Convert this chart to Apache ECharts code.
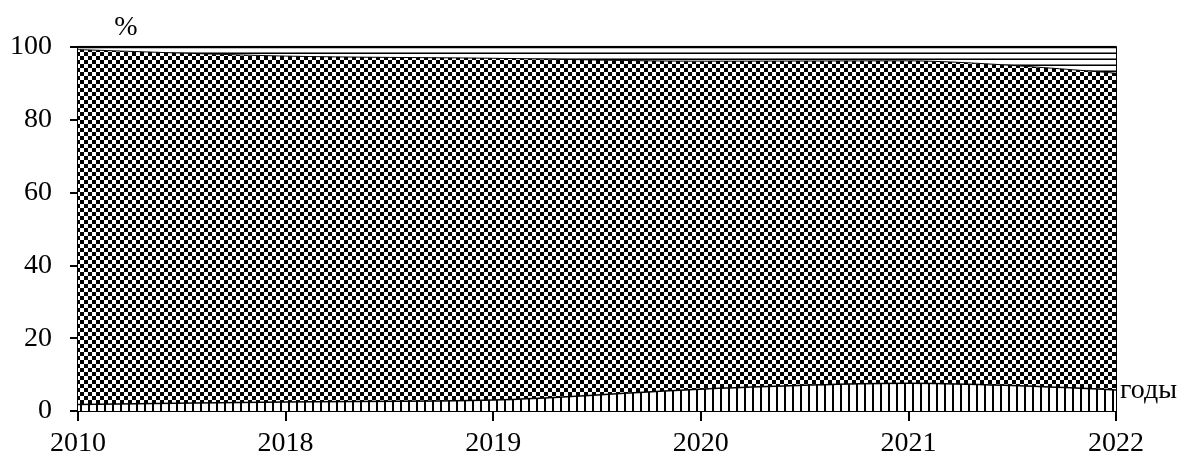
<!DOCTYPE html>
<html>
<head>
<meta charset="utf-8">
<script src="https://cdn.jsdelivr.net/npm/echarts@6/dist/echarts.min.js"></script>
<style>
html,body{margin:0;padding:0;background:#fff;}
#chart{width:1187px;height:460px;}
</style>
</head>
<body>
<div id="chart"></div>
<script>
var categories = ['2010', '2018', '2019', '2020', '2021', '2022'];
var stripedSeries = [1.8, 2.5, 3.0, 6.0, 7.6, 5.8];
var checkerSeries = [97.5, 95.0, 93.9, 90.1, 88.6, 87.0];
var linedSeries = [0.7, 2.5, 3.1, 3.9, 3.8, 7.2];
var yTicks = [0, 20, 40, 60, 80, 100];

function makePattern(w, h, draw) {
  var c = document.createElement('canvas');
  c.width = w; c.height = h;
  var ctx = c.getContext('2d');
  ctx.fillStyle = '#fff';
  ctx.fillRect(0, 0, w, h);
  ctx.fillStyle = '#000';
  draw(ctx);
  return { image: c, repeat: 'repeat' };
}
var vStripes = makePattern(8, 8, function (ctx) { ctx.fillRect(0, 0, 2, 8); });
var checker = makePattern(8, 8, function (ctx) { ctx.fillRect(0, 0, 4, 4); ctx.fillRect(4, 4, 4, 4); });
var hLines = makePattern(8, 6, function (ctx) { ctx.fillRect(0, 5, 8, 1); ctx.fillStyle = '#777'; ctx.fillRect(0, 4, 8, 1); });

var font = '"Liberation Serif", "Times New Roman", Times, serif';
var chart = echarts.init(document.getElementById('chart'), null, { renderer: 'canvas' });
chart.setOption({
  animation: false,
  backgroundColor: '#fff',
  grid: { left: 78, right: 71, top: 47, bottom: 49 },
  xAxis: {
    type: 'category',
    data: categories,
    boundaryGap: false,
    axisLine: { lineStyle: { color: '#000', width: 2 } },
    axisTick: { show: true, length: 10, lineStyle: { color: '#000', width: 2 } },
    axisLabel: { color: '#000', fontFamily: font, fontSize: 28, margin: 19 },
    splitLine: { show: false }
  },
  yAxis: [{
    type: 'value',
    min: 0, max: 100, interval: 20,
    axisLine: { show: true, lineStyle: { color: '#000', width: 2 } },
    axisTick: { show: true, length: 8, lineStyle: { color: '#000', width: 2 } },
    axisLabel: { color: '#000', fontFamily: font, fontSize: 28, margin: 26,
      formatter: function (v) { return yTicks.indexOf(v) >= 0 ? String(v) : ''; } },
    splitLine: { show: false }
  }, {
    type: 'value',
    position: 'right',
    min: 0, max: 100, interval: 20,
    axisLine: { show: true, lineStyle: { color: '#000', width: 2 } },
    axisTick: { show: false },
    axisLabel: { show: false },
    splitLine: { show: false }
  }],
  series: [{
    type: 'line', stack: 'total', data: stripedSeries, smooth: 0.3, symbol: 'none',
    lineStyle: { color: '#000', width: 1.5 },
    areaStyle: { color: vStripes, opacity: 1 }
  }, {
    type: 'line', stack: 'total', data: checkerSeries, smooth: 0.3, symbol: 'none',
    lineStyle: { color: '#000', width: 1 },
    areaStyle: { color: checker, opacity: 1 }
  }, {
    type: 'line', stack: 'total', data: linedSeries, smooth: 0.3, symbol: 'none',
    lineStyle: { color: '#000', width: 2.5 },
    areaStyle: { color: hLines, opacity: 1 }
  }],
  graphic: [{
    type: 'text', x: 126, y: 28,
    style: { text: '%', fontFamily: font, fontSize: 28, fill: '#000', textAlign: 'center', textVerticalAlign: 'middle' }
  }, {
    type: 'text', x: 1120, y: 391,
    style: { text: 'годы', fontFamily: font, fontSize: 28, fill: '#000', textAlign: 'left', textVerticalAlign: 'middle' }
  }]
});
</script>
</body>
</html>
